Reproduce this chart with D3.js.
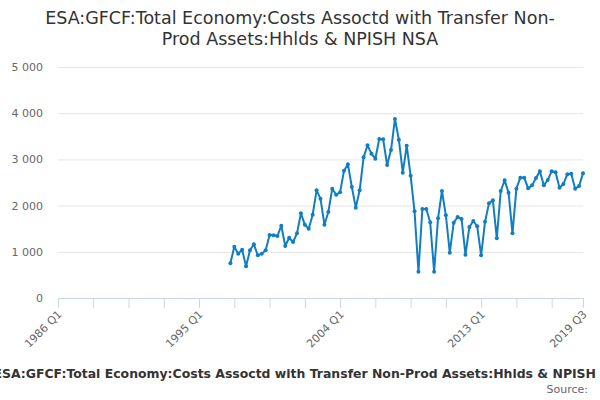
<!DOCTYPE html>
<html lang="en">
	<head>
		<meta charset="utf-8">
		<title>ESA GFCF</title>
		<script type="text/javascript" src="https://cdn.jsdelivr.net/npm/d3@7"></script>
		<style type="text/css">
			body { margin: 0; background: #fff; }
			text { font-family: "DejaVu Sans", sans-serif; }
		</style>
	</head>
	<body>
		<script type="text/javascript">

			//Width and height
			var w = 600;
			var h = 400;

			var titleLines = ["ESA:GFCF:Total Economy:Costs Assoctd with Transfer Non-",
				"Prod Assets:Hhlds & NPISH NSA"];
			var seriesName = "ESA:GFCF:Total Economy:Costs Assoctd with Transfer Non-Prod Assets:Hhlds & NPISH NSA";

			//Quarters 1997 Q1 .. 2019 Q3
			var startYear = 1997;
			var values = [
				751, 1110, 959, 1045, 686, 1032, 1162, 924, 959, 1032,
				1364, 1357, 1342, 1565, 1125, 1305, 1212, 1400, 1833, 1587,
				1500, 1803, 2331, 2150, 1587, 1861, 2366, 2236, 2287, 2756,
				2893, 2403, 1955, 2331, 3045, 3305, 3124, 3016, 3442, 3435,
				2879, 3203, 3874, 3427, 2713, 3297, 2648, 1876, 570,
				1926, 1926, 1638, 570, 1724, 2316, 1789, 981, 1631, 1753,
				1710, 938, 1537, 1667, 1551, 924, 1652, 2049, 2114, 1291,
				2316, 2547, 2280, 1400, 2366, 2605, 2605, 2373, 2438, 2597,
				2742, 2438, 2554, 2742, 2720, 2388, 2468, 2677, 2691, 2366,
				2424, 2698
			];

			var xTickLabels = ["1986 Q1", "1995 Q1", "2004 Q1", "2013 Q1", "2019 Q3"];
			var yTicks = [0, 1000, 2000, 3000, 4000, 5000];

			//quarter index counted from 1986 Q1
			function qIndex(label) {
				var p = label.split(" Q");
				return (+p[0] - 1986) * 4 + (+p[1] - 1);
			}

			var dataset = values.map(function(v, i) {
				return { q: (startYear - 1986) * 4 + i, value: v };
			});

			var svg = d3.select("body")
						.append("svg")
						.attr("width", w)
						.attr("height", h);

			var xScale = d3.scaleLinear()
						.domain([0, qIndex("2019 Q3")])
						.range([58, 583]);

			var yScale = d3.scaleLinear()
						.domain([0, 5000])
						.range([298, 67]);

			//Title
			svg.selectAll("text.title")
				.data(titleLines)
				.enter()
				.append("text")
				.attr("class", "title")
				.text(function(d) { return d; })
				.attr("x", w / 2)
				.attr("y", function(d, i) { return 24 + i * 21; })
				.attr("text-anchor", "middle")
				.attr("font-size", 17.5)
				.attr("fill", "#333333");

			//Grid lines + y labels
			var yAxis = d3.axisLeft(yScale)
						.tickValues(yTicks)
						.tickSize(-(583 - 58))
						.tickPadding(15)
						.tickFormat(function(d) { return d3.format(",")(d).replace(/,/g, " "); });

			var gy = svg.append("g")
				.attr("transform", "translate(58,0)")
				.call(yAxis);
			gy.select(".domain").remove();
			gy.selectAll(".tick line")
				.attr("stroke", "#e6e6e6");
			gy.selectAll(".tick text")
				.attr("fill", "#666666")
				.attr("font-size", 11)
				.attr("font-family", "DejaVu Sans, sans-serif");

			//X axis: ticks every 9 quarters, last at 2019 Q3
			var tickVals = d3.range(0, qIndex("2019 Q3"), 9).concat([qIndex("2019 Q3")]);
			var labelVals = xTickLabels.map(qIndex);

			var xAxis = d3.axisBottom(xScale)
						.tickValues(tickVals)
						.tickSize(10)
						.tickFormat(function(d) {
							var i = labelVals.indexOf(d);
							return i >= 0 ? xTickLabels[i] : "";
						});

			var gx = svg.append("g")
				.attr("transform", "translate(0,298)")
				.call(xAxis);
			gx.select(".domain").attr("stroke", "#ccd6eb");
			gx.selectAll(".tick line").attr("stroke", "#ccd6eb");
			gx.selectAll(".tick text")
				.attr("fill", "#666666")
				.attr("font-size", 11)
				.attr("font-family", "DejaVu Sans, sans-serif")
				.attr("text-anchor", "end")
				.attr("dy", null)
				.attr("y", 0)
				.attr("transform", "translate(4,17) rotate(-45)");

			//Line
			var line = d3.line()
				.x(function(d) { return xScale(d.q); })
				.y(function(d) { return yScale(d.value); });

			svg.append("path")
				.datum(dataset)
				.attr("d", line)
				.attr("fill", "none")
				.attr("stroke", "#117ec2")
				.attr("stroke-width", 2)
				.attr("stroke-linejoin", "round");

			svg.selectAll("circle")
				.data(dataset)
				.enter()
				.append("circle")
				.attr("cx", function(d) { return xScale(d.q); })
				.attr("cy", function(d) { return yScale(d.value); })
				.attr("r", 2)
				.attr("fill", "#117ec2");

			//Legend (overflows the frame like the original, first letter cut)
			var legend = svg.append("text")
				.text(seriesName)
				.attr("y", 378)
				.attr("font-size", 12.45)
				.attr("font-weight", "bold")
				.attr("fill", "#333333");
			var firstW = legend.node().getSubStringLength(0, 1);
			legend.attr("x", 2 - firstW);

			svg.append("text")
				.text("Source:")
				.attr("x", 588)
				.attr("y", 393)
				.attr("text-anchor", "end")
				.attr("font-size", 11)
				.attr("fill", "#666666");

		</script>
	</body>
</html>
